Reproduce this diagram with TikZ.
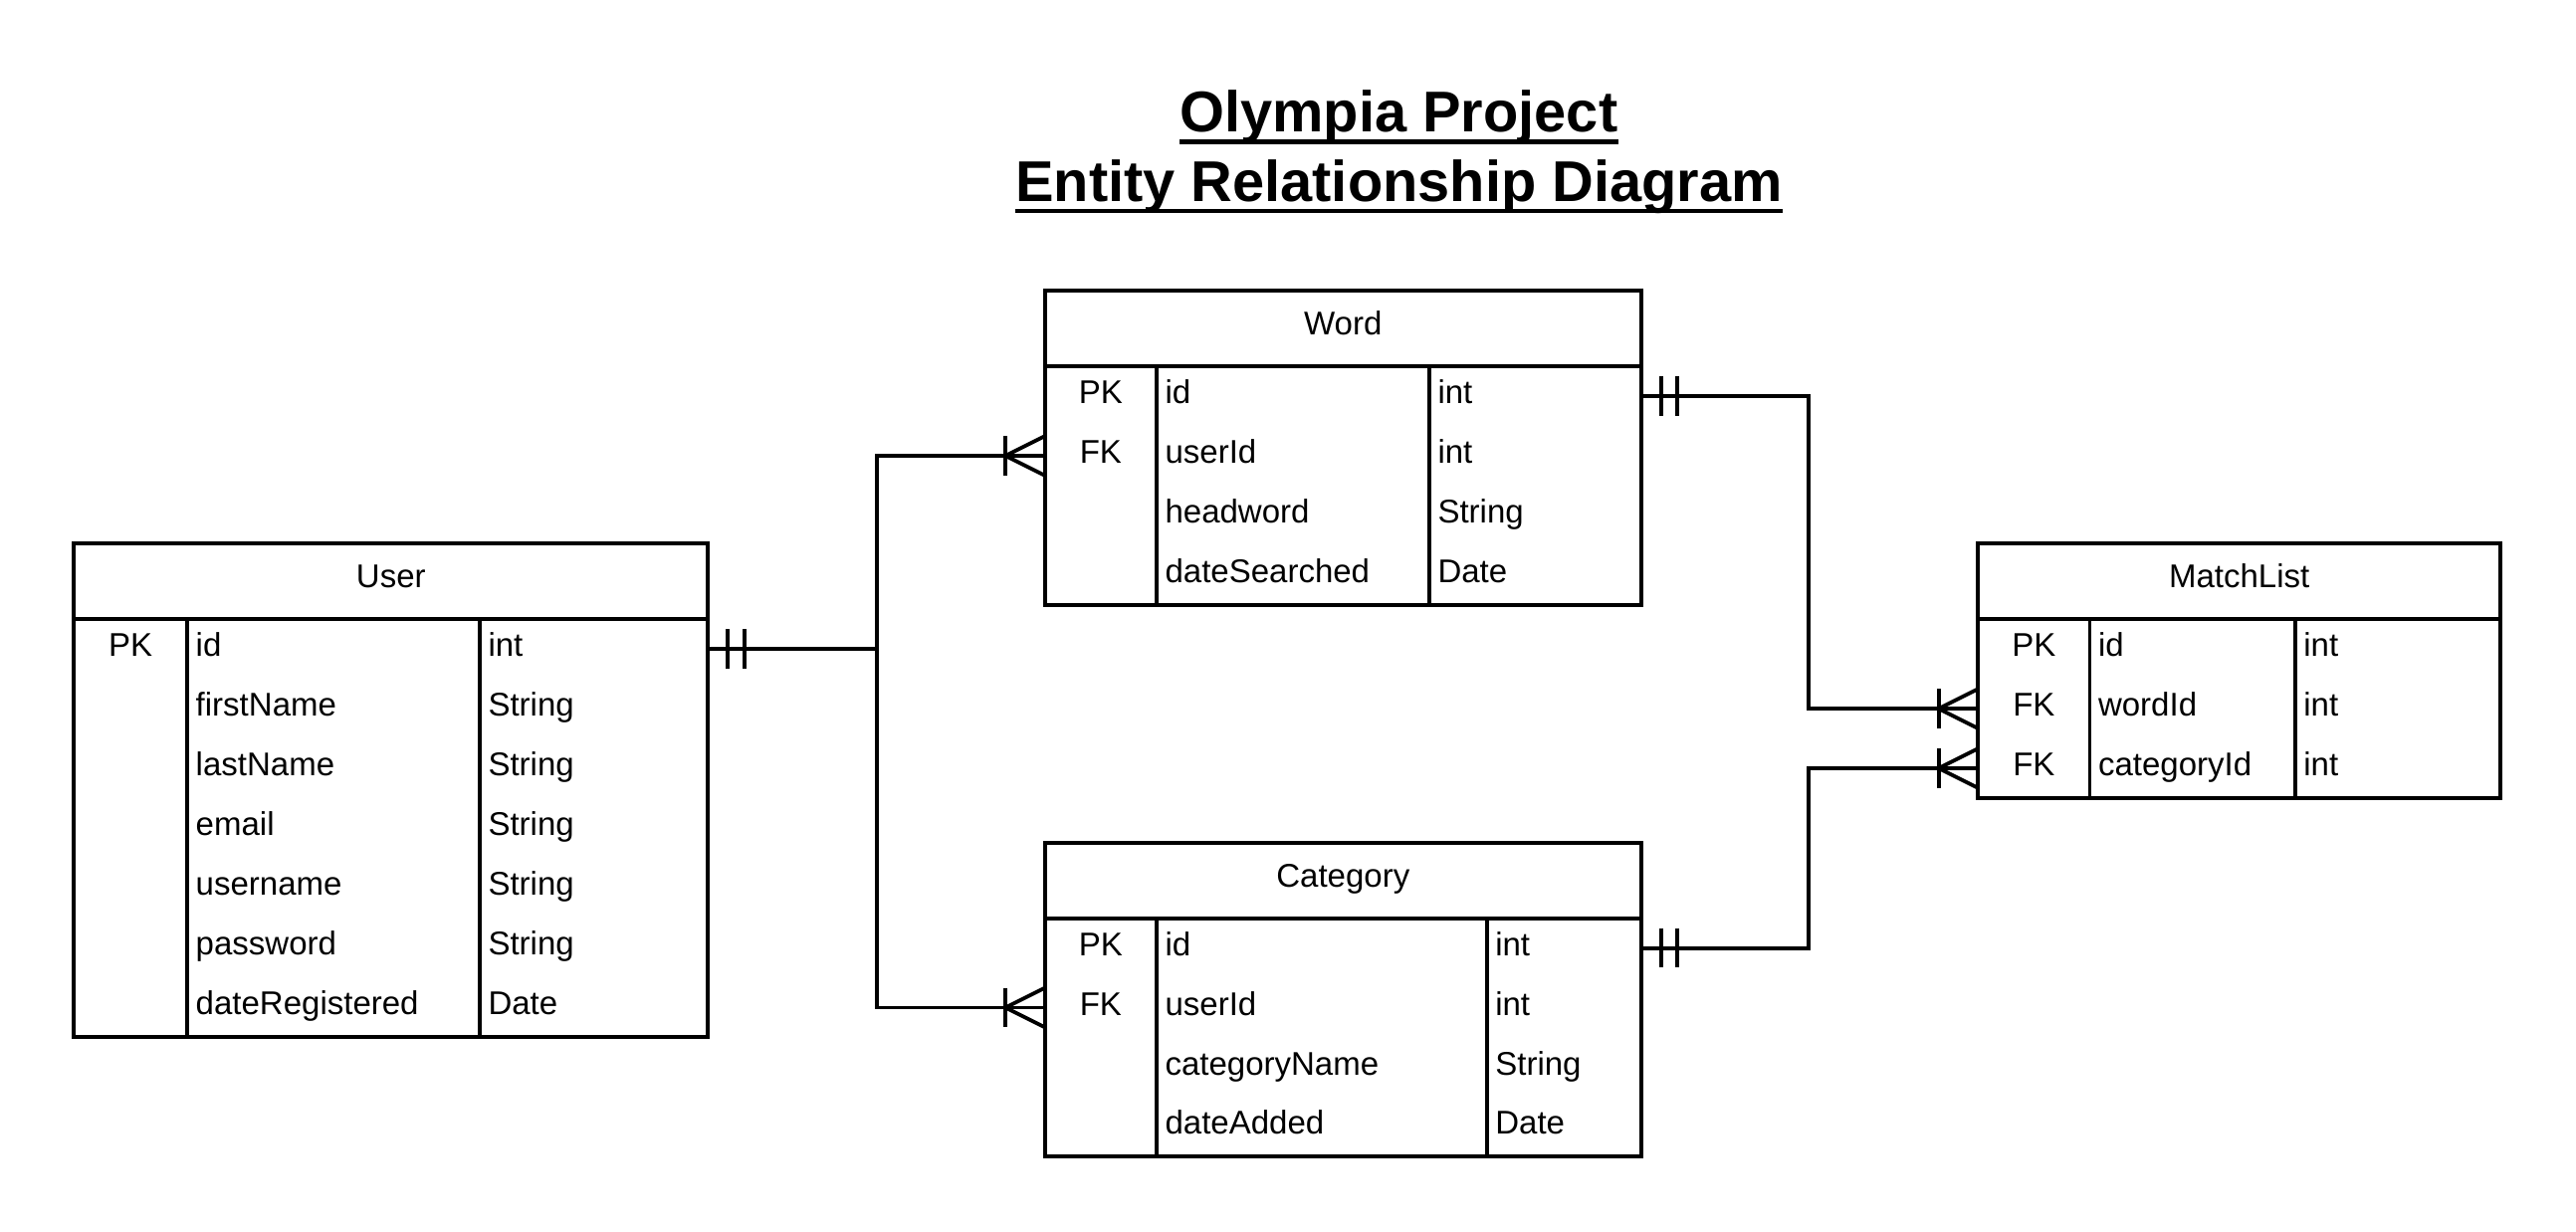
\documentclass[tikz,border=0pt]{standalone}
\usepackage{fontspec}
\setmainfont{Liberation Sans}
\usetikzlibrary{calc}
\tikzset{
  erline/.style={line width=2.3pt, line cap=butt},
  hdr/.style={draw, line width=2.3pt, anchor=north west, outer sep=0pt, minimum height=46pt, inner sep=0pt, font=\fontsize{20}{24}\selectfont, text height=12pt, text depth=4.2pt},
  rowbox/.style={anchor=north west, outer sep=0pt, minimum height=36.3pt, inner sep=0pt},
  cell/.style={inner sep=0pt, font=\fontsize{20}{24}\selectfont, text height=18.1pt, text depth=4.24pt},
  titletext/.style={font=\bfseries\fontsize{35}{42}\selectfont, inner sep=0pt, anchor=base},
  uline/.style={line width=2.8pt},
}
% #1 name, #2 x0, #3 y0, #4 width, #5 col1 x, #6 col2 x, #7 title, #8 rows, #9 number of rows
\newcommand\ertable[9]{%
  \node[hdr, minimum width=#4pt] (#1) at (#2,#3) {#7};
  \foreach[count=\i] \k/\n/\t in {#8}{%
    \node[rowbox, minimum width=#4pt] (#1-\i) at (#2,{#3+46+(\i-1)*36.3}) {};
    \node[cell] (#1-\i-k) at ({(#2+#5)/2},{#3+46+(\i-0.5)*36.3-2.3}) {\k};
    \node[cell, anchor=west] (#1-\i-n) at ({#5+5},{#3+46+(\i-0.5)*36.3-2.3}) {\n};
    \node[cell, anchor=west] (#1-\i-t) at ({#6+5},{#3+46+(\i-0.5)*36.3-2.3}) {\t};
  }
  \draw[line width=2.3pt] (#2,{#3+46}) rectangle ({#2+#4},{#3+46+#9*36.3});
  \draw[line width=2.3pt] (#5,{#3+46}) -- (#5,{#3+46+#9*36.3}) (#6,{#3+46}) -- (#6,{#3+46+#9*36.3});
}
% one and only one mark: #1 point on entity edge, #2 outward sign
\newcommand\ermarkone[2]{%
  \draw[erline] ([xshift=#2*12pt]#1) ++(0,-12) -- ++(0,24);
  \draw[erline] ([xshift=#2*22pt]#1) ++(0,-12) -- ++(0,24);
}
% one-to-many mark (crow's foot with bar)
\newcommand\ermarkmany[2]{%
  \draw[erline] ([xshift=#2*24pt]#1) ++(0,-12) -- ++(0,24);
  \draw[erline] ([yshift=12pt]#1) -- ([xshift=#2*24pt]#1) -- ([yshift=-12pt]#1);
}
\begin{document}
\begin{tikzpicture}[x=1pt,y=-1pt]
\useasboundingbox (0,0) rectangle (1568,750);

% title
\node[titletext] (t1) at (851.5,80.5) {Olympia Project};
\node[titletext] (t2) at (851.5,122.5) {Entity Relationship Diagram};
\draw[uline] ([yshift=-6pt]t1.base west) -- ([yshift=-6pt]t1.base east);
\draw[uline] ([yshift=-6pt]t2.base west) -- ([yshift=-6pt]t2.base east);

% tables
\ertable{user}{45}{331}{386}{114}{292}{User}{PK/id/int, /firstName/String, /lastName/String, /email/String, /username/String, /password/String, /dateRegistered/Date}{7}
\ertable{word}{636}{177}{363}{704}{870}{Word}{PK/id/int, FK/userId/int, /headword/String, /dateSearched/Date}{4}
\ertable{category}{636}{513}{363}{704}{905}{Category}{PK/id/int, FK/userId/int, /categoryName/String, /dateAdded/Date}{4}
\ertable{match}{1204}{331}{318}{1272}{1397}{MatchList}{PK/id/int, FK/wordId/int, FK/categoryId/int}{3}

% connectors
\draw[erline] (user-1.east) -- ++(103,0) |- (word-2.west);
\draw[erline] (user-1.east) -- ++(103,0) |- (category-2.west);
\draw[erline] (word-1.east) -- ++(102,0) |- (match-2.west);
\draw[erline] (category-1.east) -- ++(102,0) |- (match-3.west);

% cardinality marks
\ermarkone{user-1.east}{1}
\ermarkmany{word-2.west}{-1}
\ermarkmany{category-2.west}{-1}
\ermarkone{word-1.east}{1}
\ermarkmany{match-2.west}{-1}
\ermarkone{category-1.east}{1}
\ermarkmany{match-3.west}{-1}
\end{tikzpicture}
\end{document}
